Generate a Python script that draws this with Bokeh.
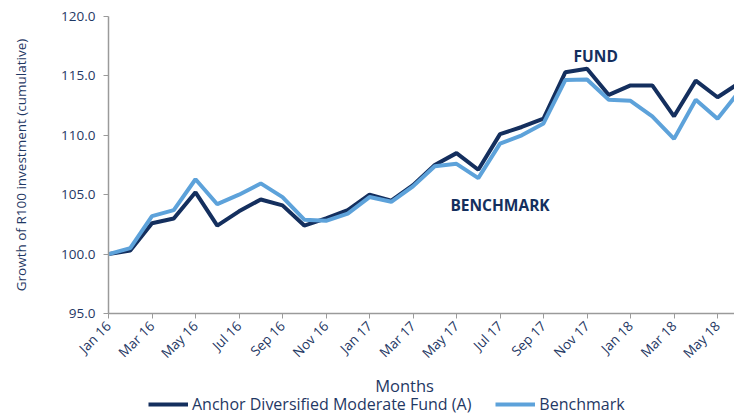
from bokeh.plotting import figure
from bokeh.layouts import column
from bokeh.models import (ColumnDataSource, FixedTicker, Range1d, Legend, LegendItem, Label)
from bokeh.embed import file_html
from bokeh.resources import INLINE
import math

months = ["Jan 16", "Feb 16", "Mar 16", "Apr 16", "May 16", "Jun 16", "Jul 16", "Aug 16",
          "Sep 16", "Oct 16", "Nov 16", "Dec 16", "Jan 17", "Feb 17", "Mar 17", "Apr 17",
          "May 17", "Jun 17", "Jul 17", "Aug 17", "Sep 17", "Oct 17", "Nov 17", "Dec 17",
          "Jan 18", "Feb 18", "Mar 18", "Apr 18", "May 18", "Jun 18"]
fund = [100.0, 100.3, 102.6, 103.0, 105.2, 102.4, 103.6, 104.6, 104.1, 102.4, 103.0, 103.7,
        105.0, 104.5, 105.8, 107.5, 108.5, 107.1, 110.1, 110.7, 111.4, 115.3, 115.6, 113.4,
        114.2, 114.2, 111.6, 114.6, 113.2, 114.4]
bench = [100.0, 100.5, 103.2, 103.7, 106.3, 104.2, 105.0, 105.95, 104.8, 102.9, 102.8, 103.4,
         104.8, 104.4, 105.7, 107.4, 107.6, 106.4, 109.3, 110.0, 111.0, 114.65, 114.7, 113.0,
         112.9, 111.6, 109.7, 113.0, 111.4, 113.7]
tick_idx = list(range(0, 30, 2))
y_ticks = [95, 100, 105, 110, 115, 120]

fund_name = "Anchor Diversified Moderate Fund (A)"
bench_name = "Benchmark"
x_title = "Months"

FONT = "Open Sans"
TXT = "#1F3864"
FUND_C = "#142F5E"
BENCH_C = "#5DA2DA"
AX_C = "#9A9A9A"

src = ColumnDataSource(dict(x=list(range(len(months))), fund=fund, bench=bench))

p = figure(width=734, height=372, output_backend="svg", toolbar_location=None,
           x_range=Range1d(0, 28.78), y_range=Range1d(95, 120),
           min_border_left=108, min_border_right=0, min_border_top=16, min_border_bottom=59)
p.outline_line_color = None
p.xgrid.visible = False
p.ygrid.visible = False

p.line("x", "fund", source=src, line_color=FUND_C, line_width=4)
p.line("x", "bench", source=src, line_color=BENCH_C, line_width=4)

# axes
p.yaxis.ticker = FixedTicker(ticks=y_ticks)
p.yaxis.major_label_overrides = {t: f"{t:.1f}" for t in y_ticks}
p.yaxis.axis_label = "Growth of R100 investment (cumulative)"
p.xaxis.ticker = FixedTicker(ticks=tick_idx)
p.xaxis.major_label_overrides = {i: months[i] for i in tick_idx}
p.xaxis.major_label_orientation = math.pi / 4

for ax in (p.xaxis[0], p.yaxis[0]):
    ax.axis_line_color = AX_C
    ax.axis_line_width = 1.5
    ax.major_tick_line_color = AX_C
    ax.major_tick_out = 5
    ax.major_tick_in = 0
    ax.minor_tick_line_color = None
    ax.major_label_text_font = FONT
    ax.major_label_text_font_size = "13.5px"
    ax.major_label_text_color = TXT
    ax.axis_label_text_font = FONT
    ax.axis_label_text_font_style = "normal"
    ax.axis_label_text_color = TXT

p.yaxis.axis_label_text_font_size = "13.5px"
p.yaxis.major_label_standoff = 8
p.yaxis.axis_label_standoff = 28

# annotations
p.add_layout(Label(x=22.4, y=116.65, text="FUND", text_font=FONT, text_font_style="bold",
                   text_font_size="15.5px", text_color=FUND_C, text_align="center",
                   text_baseline="middle"))
p.add_layout(Label(x=18.0, y=104.1, text="BENCHMARK", text_font=FONT, text_font_style="bold",
                   text_font_size="15.5px", text_color=FUND_C, text_align="center",
                   text_baseline="middle"))

# bottom strip: axis title + legend (pixel coordinates inside its frame)
leg = figure(width=734, height=43, output_backend="svg", toolbar_location=None,
             x_range=Range1d(0, 626), y_range=Range1d(0, 43),
             min_border_left=108, min_border_right=0, min_border_top=0, min_border_bottom=0)
leg.outline_line_color = None
leg.axis.visible = False
leg.grid.visible = False
leg.add_layout(Label(x=296, y=30, text=x_title, text_font=FONT, text_font_size="16.5px",
                     text_color=TXT, text_align="center", text_baseline="middle"))
lf = leg.line(x=[-20, -10], y=[-20, -20], line_color=FUND_C, line_width=4)
lb = leg.line(x=[-20, -10], y=[-20, -20], line_color=BENCH_C, line_width=4)
legend = Legend(items=[LegendItem(label=fund_name, renderers=[lf]),
                       LegendItem(label=bench_name, renderers=[lb])],
                orientation="horizontal", location=(40, 0),
                label_text_font=FONT, label_text_font_size="16px", label_text_color=TXT,
                glyph_width=40, glyph_height=14, label_standoff=4, spacing=24,
                padding=0, margin=0, border_line_color=None, background_fill_alpha=0)
leg.add_layout(legend, "center")

layout = column(p, leg, spacing=0)
open("out.html", "w").write(file_html(layout, INLINE))
